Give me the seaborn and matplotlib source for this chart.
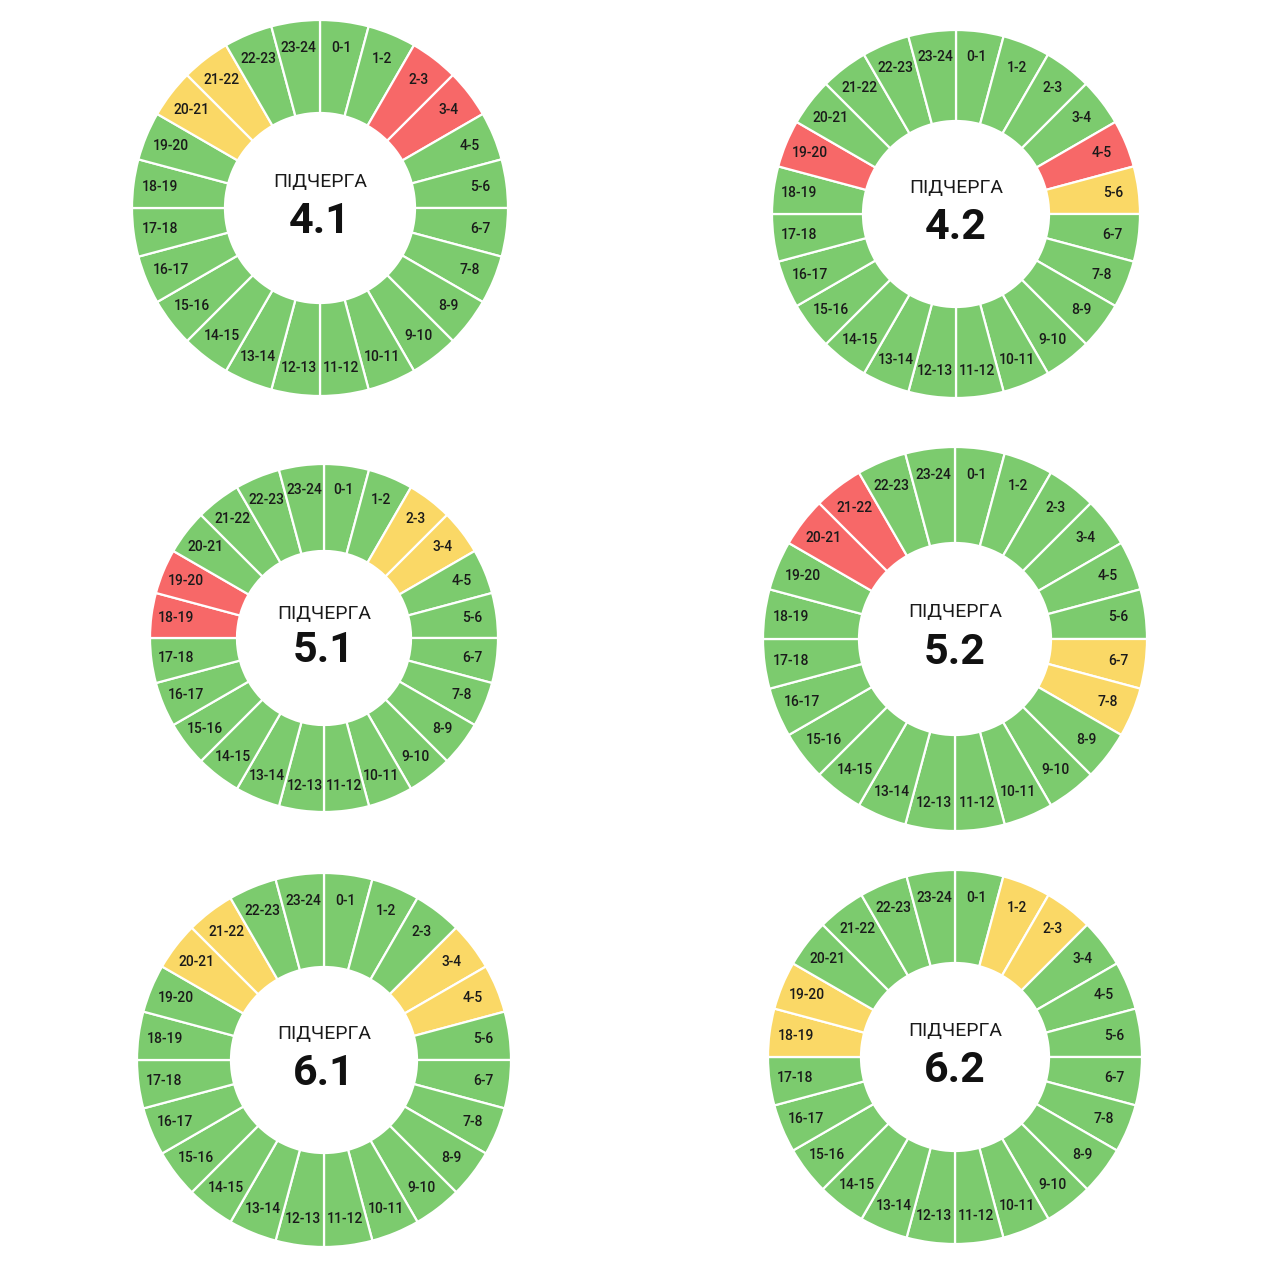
import matplotlib
matplotlib.use("Agg")
import matplotlib.pyplot as plt
import seaborn as sns

# hour slots around the clock
hours = ["0-1", "1-2", "2-3", "3-4", "4-5", "5-6", "6-7", "7-8", "8-9", "9-10",
         "10-11", "11-12", "12-13", "13-14", "14-15", "15-16", "16-17", "17-18",
         "18-19", "19-20", "20-21", "21-22", "22-23", "23-24"]
slot_len = [1] * 24

# 0 = power on, 1 = maybe off, 2 = off
q41 = [0, 0, 2, 2, 0, 0, 0, 0, 0, 0, 0, 0, 0, 0, 0, 0, 0, 0, 0, 0, 1, 1, 0, 0]
q42 = [0, 0, 0, 0, 2, 1, 0, 0, 0, 0, 0, 0, 0, 0, 0, 0, 0, 0, 0, 2, 0, 0, 0, 0]
q51 = [0, 0, 1, 1, 0, 0, 0, 0, 0, 0, 0, 0, 0, 0, 0, 0, 0, 0, 2, 2, 0, 0, 0, 0]
q52 = [0, 0, 0, 0, 0, 0, 1, 1, 0, 0, 0, 0, 0, 0, 0, 0, 0, 0, 0, 0, 2, 2, 0, 0]
q61 = [0, 0, 0, 1, 1, 0, 0, 0, 0, 0, 0, 0, 0, 0, 0, 0, 0, 0, 0, 0, 1, 1, 0, 0]
q62 = [0, 1, 1, 0, 0, 0, 0, 0, 0, 0, 0, 0, 0, 0, 0, 0, 0, 0, 1, 1, 0, 0, 0, 0]

queue_names = ["4.1", "4.2", "5.1", "5.2", "6.1", "6.2"]
queue_status = [q41, q42, q51, q52, q61, q62]

# donut placement in pixels: centre x, centre y, outer r, inner r
layout = [
    (320, 208, 188, 95),
    (956, 214, 184, 93),
    (324, 638, 174, 87),
    (955, 639, 192, 96),
    (324, 1060, 187, 93),
    (955, 1057, 187, 94),
]

colors = {0: "#7ccb6e", 1: "#fad866", 2: "#f76868"}

sns.set_theme(style="white")
plt.rcParams["font.family"] = ["Roboto", "DejaVu Sans"]

W = H = 1280
fig = plt.figure(figsize=(W / 100, H / 100), dpi=100)
fig.patch.set_facecolor("white")

pad = 1.03
for name, status, (cx, cy, R, r) in zip(queue_names, queue_status, layout):
    s = R * pad
    ax = fig.add_axes([(cx - s) / W, (H - cy - s) / H, 2 * s / W, 2 * s / H])

    wedges, texts = ax.pie(
        slot_len,
        labels=hours,
        colors=[colors[v] for v in status],
        startangle=90,
        counterclock=False,
        labeldistance=0.86,
        wedgeprops=dict(width=1 - r / R, edgecolor="white", linewidth=1.6),
        textprops=dict(fontsize=10, color="#1a1a1a", fontweight="medium"),
    )
    for t in texts:
        t.set_ha("center")
        t.set_va("center")

    ax.text(0, 0.14, "ПІДЧЕРГА", ha="center", va="center",
            fontsize=14, fontweight="normal", color="#1a1a1a")
    ax.text(0, -0.072, name, ha="center", va="center",
            fontsize=31, fontweight="bold", color="#111111")

    ax.set_xlim(-pad, pad)
    ax.set_ylim(-pad, pad)
    ax.set_aspect("equal")
    ax.axis("off")

fig.savefig("out.png", dpi=100, facecolor="white")
